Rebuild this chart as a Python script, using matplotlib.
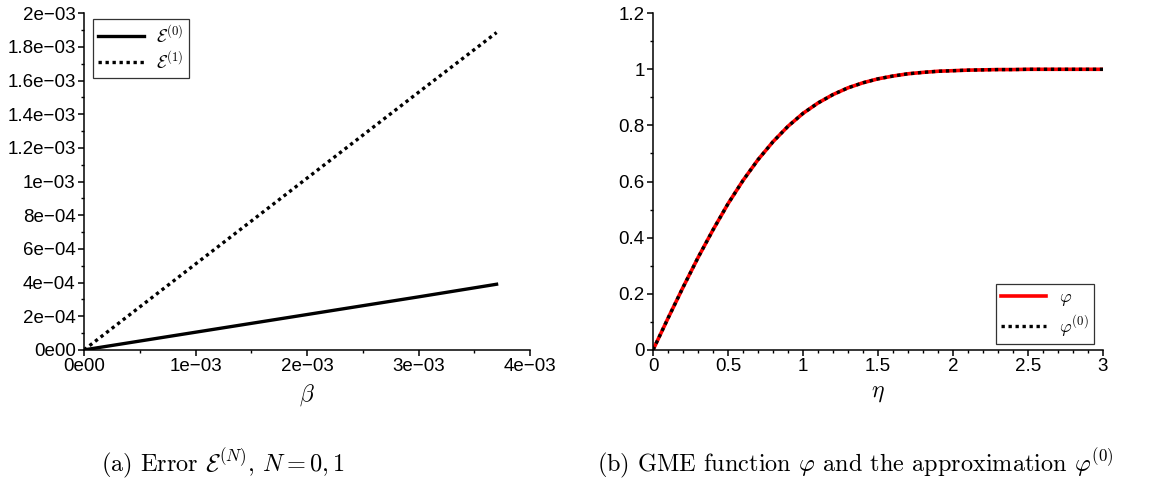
"""Error E^(N) and GME function phi"""

import matplotlib
matplotlib.use("Agg")
import matplotlib.pyplot as plt
from matplotlib.ticker import MultipleLocator, FuncFormatter

plt.rcParams["font.family"] = ["Liberation Sans", "DejaVu Sans"]
plt.rcParams["mathtext.fontset"] = "cm"

# (a) 誤差
beta = [0.0, 1.0e-3, 2.0e-3, 3.0e-3, 3.7e-3]
err0 = [0.0, 1.05e-4, 2.1e-4, 3.15e-4, 3.9e-4]
err1 = [0.0, 5.1e-4, 1.02e-3, 1.53e-3, 1.885e-3]

# (b) GME function
eta = [0.0, 0.1, 0.2, 0.3, 0.4, 0.5, 0.6, 0.7, 0.8, 0.9, 1.0,
       1.1, 1.2, 1.3, 1.4, 1.5, 1.6, 1.7, 1.8, 1.9, 2.0,
       2.1, 2.2, 2.3, 2.4, 2.5, 2.6, 2.7, 2.8, 2.9, 3.0]
phi = [0.0, 0.113, 0.223, 0.329, 0.428, 0.521, 0.604, 0.678, 0.742, 0.797, 0.843,
       0.880, 0.910, 0.934, 0.952, 0.966, 0.976, 0.984, 0.989, 0.993, 0.995,
       0.997, 0.998, 0.999, 0.999, 1.0, 1.0, 1.0, 1.0, 1.0, 1.0]
phi0 = [0.0, 0.113, 0.223, 0.329, 0.428, 0.521, 0.604, 0.678, 0.742, 0.797, 0.843,
        0.880, 0.910, 0.934, 0.952, 0.966, 0.976, 0.984, 0.989, 0.993, 0.995,
        0.997, 0.998, 0.999, 0.999, 1.0, 1.0, 1.0, 1.0, 1.0, 1.0]


def sci(v, pos):
    if abs(v) < 1e-12:
        return "0e00"
    m, e = f"{v:.1e}".split("e")
    m = m.rstrip("0").rstrip(".")
    return f"{m}e{e}".replace("-", "\u2212").replace("+", "")


def plain(v, pos):
    return f"{v:g}"


def style(ax):
    for s in ["top", "right"]:
        ax.spines[s].set_visible(False)
    for s in ["left", "bottom"]:
        ax.spines[s].set_linewidth(1.1)
    ax.tick_params(which="major", direction="out", length=4, width=1.1, labelsize=13.5, pad=2)
    ax.tick_params(which="minor", direction="out", length=2.5, width=1.0)


fig = plt.figure(figsize=(11.54, 4.88), dpi=100)

# (a)
ax1 = fig.add_axes([0.0728, 0.283, 0.3865, 0.690])
ax1.plot(beta, err0, color="black", lw=2.4, label=r"$\mathcal{E}^{(0)}$")
ax1.plot(beta, err1, color="black", lw=2.4, linestyle=(0, (1, 1.1)), label=r"$\mathcal{E}^{(1)}$")
ax1.set_xlim(0, 4e-3)
ax1.set_ylim(0, 2e-3)
ax1.xaxis.set_major_locator(MultipleLocator(1e-3))
ax1.xaxis.set_minor_locator(MultipleLocator(5e-4))
ax1.yaxis.set_major_locator(MultipleLocator(2e-4))
ax1.yaxis.set_minor_locator(MultipleLocator(1e-4))
ax1.xaxis.set_major_formatter(FuncFormatter(sci))
ax1.yaxis.set_major_formatter(FuncFormatter(sci))
style(ax1)
ax1.set_xlabel(r"$\beta$", fontsize=17, labelpad=5)
leg1 = ax1.legend(loc="upper left", bbox_to_anchor=(0.0, 1.01), fontsize=13,
                  handlelength=2.5, frameon=True, fancybox=False, borderpad=0.3,
                  labelspacing=0.25, handletextpad=0.7)
leg1.get_frame().set_edgecolor("black")
leg1.get_frame().set_linewidth(0.9)

# (b)
ax2 = fig.add_axes([0.5659, 0.283, 0.3899, 0.690])
ax2.plot(eta, phi, color="red", lw=2.6, label=r"$\varphi$")
ax2.plot(eta, phi0, color="black", lw=2.4, linestyle=(0, (1, 1.1)), label=r"$\varphi^{(0)}$")
ax2.set_xlim(0, 3)
ax2.set_ylim(0, 1.2)
ax2.xaxis.set_major_locator(MultipleLocator(0.5))
ax2.xaxis.set_minor_locator(MultipleLocator(0.1))
ax2.yaxis.set_major_locator(MultipleLocator(0.2))
ax2.yaxis.set_minor_locator(MultipleLocator(0.1))
ax2.xaxis.set_major_formatter(FuncFormatter(plain))
ax2.yaxis.set_major_formatter(FuncFormatter(plain))
style(ax2)
ax2.set_xlabel(r"$\eta$", fontsize=17, labelpad=5)
leg2 = ax2.legend(loc="lower right", bbox_to_anchor=(1.0, -0.01), fontsize=13,
                  handlelength=2.5, frameon=True, fancybox=False, borderpad=0.3,
                  labelspacing=0.25, handletextpad=0.7)
leg2.get_frame().set_edgecolor("black")
leg2.get_frame().set_linewidth(0.9)

# captions
fig.text(0.193, 0.052, r"(a) Error $\mathcal{E}^{(N)}$, $N=0,1$", family="cmr10",
         fontsize=17.5, ha="center", va="center")
fig.text(0.741, 0.052, r"(b) GME function $\varphi$ and the approximation $\varphi^{(0)}$",
         family="cmr10", fontsize=17.5, ha="center", va="center")

fig.savefig("out.png", dpi=100)
